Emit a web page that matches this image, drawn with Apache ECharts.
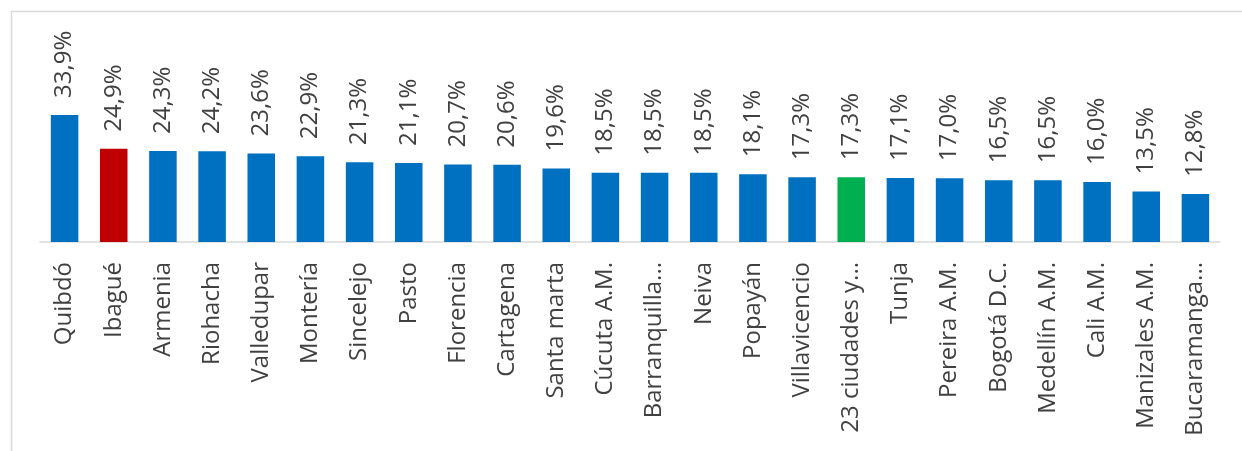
<!DOCTYPE html>
<html>
<head>
<meta charset="utf-8">
<script src="https://cdn.jsdelivr.net/npm/echarts@6/dist/echarts.min.js"></script>
<style>
  html, body { margin: 0; padding: 0; background: #fff; }
  #main { width: 1242px; height: 451px; }
</style>
</head>
<body>
<div id="main"></div>
<script>
// ciudades y tasa (%)
const ciudades = ['Quibdó', 'Ibagué', 'Armenia', 'Riohacha', 'Valledupar', 'Montería', 'Sincelejo', 'Pasto',
  'Florencia', 'Cartagena', 'Santa marta', 'Cúcuta A.M.', 'Barranquilla...', 'Neiva', 'Popayán',
  'Villavicencio', '23 ciudades y...', 'Tunja', 'Pereira A.M.', 'Bogotá D.C.', 'Medellín A.M.',
  'Cali A.M.', 'Manizales A.M.', 'Bucaramanga...'];
const tasas = [33.9, 24.9, 24.3, 24.2, 23.6, 22.9, 21.3, 21.1, 20.7, 20.6, 19.6, 18.5, 18.5, 18.5, 18.1,
  17.3, 17.3, 17.1, 17.0, 16.5, 16.5, 16.0, 13.5, 12.8];
const destacados = { 'Ibagué': '#c00000', '23 ciudades y...': '#00b050' };

const chart = echarts.init(document.getElementById('main'));
const fuente = '"Open Sans", "Noto Sans", sans-serif';

chart.setOption({
  animation: false,
  graphic: [{
    type: 'rect',
    shape: { x: 11.5, y: 11.5, width: 1400, height: 600 },
    style: { fill: 'none', stroke: '#d9d9d9', lineWidth: 1.5 }
  }],
  grid: { left: 40, right: 22, top: 92, bottom: 209 },
  xAxis: {
    type: 'category',
    data: ciudades,
    axisLine: { lineStyle: { color: '#d9d9d9', width: 1.5 } },
    axisTick: { show: false },
    axisLabel: {
      interval: 0,
      rotate: 90,
      margin: 20,
      color: '#404040',
      fontSize: 24,
      fontFamily: fuente
    }
  },
  yAxis: {
    type: 'value',
    min: 0,
    max: 40,
    show: false
  },
  series: [{
    type: 'bar',
    barWidth: '56%',
    data: tasas.map((v, i) => ({
      value: v,
      itemStyle: { color: destacados[ciudades[i]] || '#0070c0' }
    })),
    label: {
      show: true,
      position: 'top',
      rotate: 90,
      align: 'left',
      verticalAlign: 'middle',
      distance: 17,
      color: '#404040',
      fontSize: 24,
      fontFamily: fuente,
      formatter: p => p.value.toFixed(1).replace('.', ',') + '%'
    }
  }]
});
</script>
</body>
</html>
